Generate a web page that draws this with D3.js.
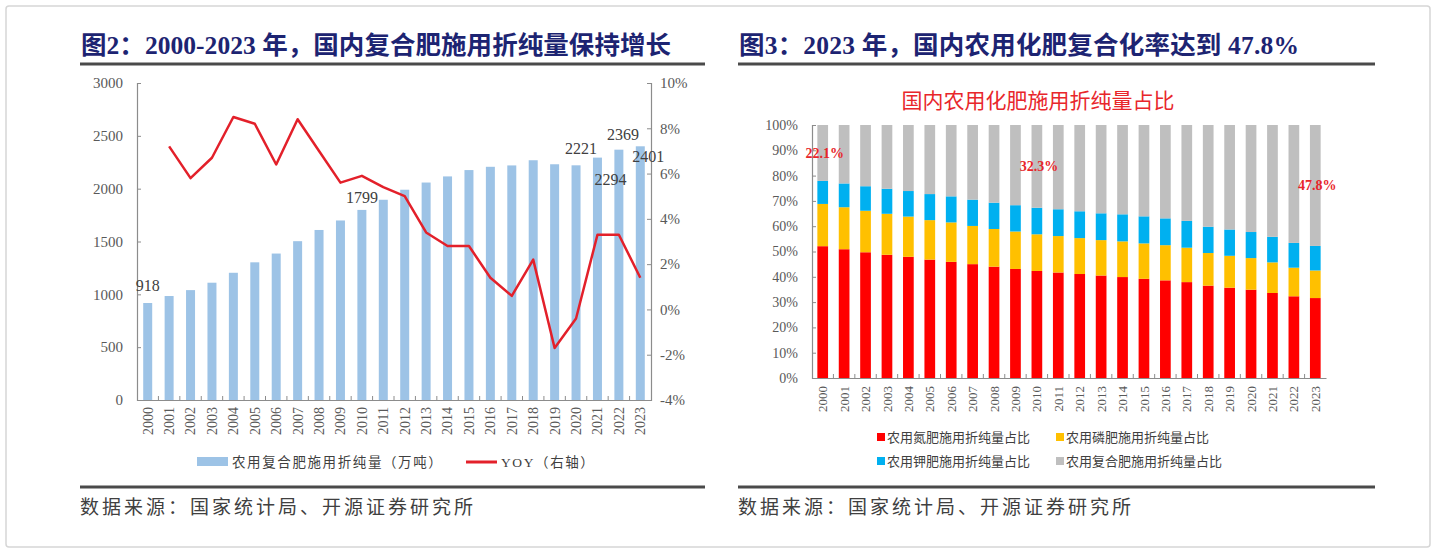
<!DOCTYPE html>
<html>
<head>
<meta charset="utf-8">
<script src="https://cdn.jsdelivr.net/npm/d3@7"></script>
<style>
  html, body { margin: 0; padding: 0; background: #fff; }
  svg { display: block; }
  text { font-family: "Liberation Serif", "Noto Sans CJK SC", serif; }
</style>
</head>
<body>
<svg id="chart" width="1438" height="555"></svg>
<script>
// data
const years = ["2000","2001","2002","2003","2004","2005","2006","2007","2008","2009","2010","2011",
  "2012","2013","2014","2015","2016","2017","2018","2019","2020","2021","2022","2023"];

// 农用复合肥施用折纯量（万吨）
const compoundTons = [918, 984, 1040, 1110, 1204, 1303, 1386, 1503, 1609, 1699, 1799, 1895,
  1990, 2058, 2116, 2176, 2207, 2220, 2269, 2231, 2221, 2294, 2369, 2401];

// YOY（右轴），% — no value for 2000
const yoy = [null, 7.2, 5.8, 6.7, 8.5, 8.2, 6.4, 8.4, 7.0, 5.6, 5.9, 5.4,
  5.0, 3.4, 2.8, 2.8, 1.4, 0.6, 2.2, -1.7, -0.4, 3.3, 3.3, 1.4];

// 占比, %
const nShare = [52.1, 50.9, 49.7, 48.7, 47.9, 46.8, 45.9, 45.0, 44.0, 43.1, 42.3, 41.7,
  41.1, 40.5, 39.9, 39.2, 38.6, 37.9, 36.5, 35.7, 34.9, 33.6, 32.3, 31.6];
const pShare = [16.7, 16.6, 16.4, 16.2, 15.9, 15.6, 15.6, 15.1, 14.9, 14.8, 14.5, 14.4,
  14.2, 14.0, 14.1, 14.0, 13.9, 13.6, 12.9, 12.6, 12.5, 12.1, 11.3, 10.9];
const kShare = [9.1, 9.4, 9.7, 9.9, 10.1, 10.3, 10.3, 10.4, 10.4, 10.4, 10.5, 10.6,
  10.6, 10.6, 10.7, 10.7, 10.6, 10.6, 10.4, 10.4, 10.3, 10.1, 9.8, 9.7];
const cShare = [22.1, 23.1, 24.2, 25.2, 26.1, 27.3, 28.2, 29.5, 30.7, 31.7, 32.7, 33.3,
  34.1, 34.9, 35.3, 36.1, 36.9, 37.9, 40.2, 41.3, 42.3, 44.2, 46.6, 47.8];

const tonTicks = [0, 500, 1000, 1500, 2000, 2500, 3000];
const yoyTicks = [-4, -2, 0, 2, 4, 6, 8, 10];
const shareTicks = [0, 10, 20, 30, 40, 50, 60, 70, 80, 90, 100];

// which bars get a value label in fig 2, and which share labels in fig 3
const labelledYears = ["2000", "2010", "2020", "2021", "2022", "2023"];
const shareLabelYears = ["2000", "2010", "2023"];
const shareLabelTexts = ["22.1%", "32.3%", "47.8%"];

const shareKeys = ["n", "p", "k", "c"];
const shareNames = ["农用氮肥施用折纯量占比", "农用磷肥施用折纯量占比", "农用钾肥施用折纯量占比", "农用复合肥施用折纯量占比"];

// colours
const navy = "#1d2472";
const axisGrey = "#8c8c8c";
const labelGrey = "#595959";
const shareColors = { n: "#ff0000", p: "#ffc000", k: "#00b0f0", c: "#bfbfbf" };

const svg = d3.select("#chart");

// outer frame
svg.append("rect")
  .attr("x", 6).attr("y", 6).attr("width", 1424).attr("height", 541)
  .attr("rx", 3)
  .attr("fill", "none").attr("stroke", "#d6d6d6").attr("stroke-width", 1.5);

// heading + rules for each panel
function panelFrame(x0, x1, title, titleWidth) {
  svg.append("text")
    .attr("x", x0 + 1).attr("y", 54)
    .attr("font-size", 25.5).attr("font-weight", "bold")
    .attr("fill", navy)
    .attr("textLength", titleWidth).attr("lengthAdjust", "spacing")
    .text(title);
  svg.append("line")
    .attr("x1", x0).attr("x2", x1).attr("y1", 64).attr("y2", 64)
    .attr("stroke", "#4a4a4a").attr("stroke-width", 3);
  svg.append("line")
    .attr("x1", x0).attr("x2", x1).attr("y1", 487).attr("y2", 487)
    .attr("stroke", "#4a4a4a").attr("stroke-width", 3);
  svg.append("text")
    .attr("x", x0).attr("y", 514)
    .attr("font-size", 19).attr("letter-spacing", 3)
    .attr("fill", "#404040")
    .text("数据来源：国家统计局、开源证券研究所");
}
panelFrame(80, 705, "图2：2000-2023 年，国内复合肥施用折纯量保持增长", 590);
panelFrame(738, 1375, "图3：2023 年，国内农用化肥复合化率达到 47.8%", 560);

// style helper for axes
function styleAxis(sel, size) {
  sel.select(".domain").attr("stroke", axisGrey).attr("stroke-width", 1.2);
  sel.selectAll(".tick line").attr("stroke", axisGrey);
  sel.selectAll(".tick text")
    .attr("font-size", size)
    .attr("font-family", "Liberation Serif, serif")
    .attr("fill", labelGrey);
}

// ---------- 图2 ----------
const L = { left: 137, right: 651, top: 83, bottom: 400 };

const xL = d3.scaleBand().domain(years).range([L.left, L.right]).paddingInner(0.58).paddingOuter(0.29);
const yL = d3.scaleLinear().domain([0, 3000]).range([L.bottom, L.top]);
const yR = d3.scaleLinear().domain([-4, 10]).range([L.bottom, L.top]);
const bandL = d3.scaleBand().domain(years).range([L.left, L.right]);

const gL = svg.append("g");

// bars
gL.selectAll("rect.bar")
  .data(years)
  .join("rect")
  .attr("class", "bar")
  .attr("x", (d) => xL(d))
  .attr("width", xL.bandwidth())
  .attr("y", (d, i) => yL(compoundTons[i]))
  .attr("height", (d, i) => yL(0) - yL(compoundTons[i]))
  .attr("fill", "#9dc3e6");

// axes
const axL = gL.append("g")
  .attr("transform", `translate(${L.left},0)`)
  .call(d3.axisLeft(yL).tickValues(tonTicks).tickSize(-4).tickPadding(14).tickFormat(d3.format("d")));
styleAxis(axL, 15);

const axR = gL.append("g")
  .attr("transform", `translate(${L.right},0)`)
  .call(d3.axisRight(yR).tickValues(yoyTicks).tickSize(-4).tickPadding(9).tickFormat((d) => d + "%"));
styleAxis(axR, 15);

const axB = gL.append("g")
  .attr("transform", `translate(0,${L.bottom})`)
  .call(d3.axisBottom(bandL).tickSize(0).tickPadding(0));
axB.select(".domain").attr("stroke", axisGrey).attr("stroke-width", 1.2);
axB.selectAll(".tick text")
  .attr("font-size", 14).attr("fill", labelGrey)
  .attr("transform", "rotate(-90)")
  .attr("text-anchor", "end")
  .attr("dx", "-7").attr("dy", "0.35em")
  .attr("x", 0).attr("y", 0);
// small inner ticks on band boundaries
gL.append("g").selectAll("line")
  .data(years.slice(1))
  .join("line")
  .attr("x1", (d) => bandL(d)).attr("x2", (d) => bandL(d))
  .attr("y1", L.bottom).attr("y2", L.bottom - 4)
  .attr("stroke", axisGrey);

// YOY line
const yoyLine = d3.line()
  .defined((d) => d.v !== null)
  .x((d) => xL(d.year) + xL.bandwidth() / 2)
  .y((d) => yR(d.v));
gL.append("path")
  .datum(years.map((y, i) => ({ year: y, v: yoy[i] })))
  .attr("fill", "none")
  .attr("stroke", "#e3202a")
  .attr("stroke-width", 2.5)
  .attr("stroke-linejoin", "round")
  .attr("d", yoyLine);

// value labels (manual nudges like the original)
const nudge = { "2000": [0, -12], "2010": [0, -7], "2020": [5, -11], "2021": [13, 27], "2022": [4, -10], "2023": [8, 16] };
gL.selectAll("text.val")
  .data(labelledYears)
  .join("text")
  .attr("class", "val")
  .attr("x", (d) => xL(d) + xL.bandwidth() / 2 + nudge[d][0])
  .attr("y", (d) => yL(compoundTons[years.indexOf(d)]) + nudge[d][1])
  .attr("text-anchor", "middle")
  .attr("font-size", 16)
  .attr("fill", "#404040")
  .text((d) => compoundTons[years.indexOf(d)]);

// legend
const legL = gL.append("g").attr("transform", "translate(197,462)");
legL.append("rect").attr("x", 0).attr("y", -5).attr("width", 31).attr("height", 9).attr("fill", "#9dc3e6");
legL.append("text").attr("x", 35).attr("y", 5).attr("font-size", 13.5).attr("letter-spacing", 1.6)
  .attr("fill", "#404040").text("农用复合肥施用折纯量（万吨）");
legL.append("line").attr("x1", 269).attr("x2", 300).attr("y1", 0).attr("y2", 0)
  .attr("stroke", "#e3202a").attr("stroke-width", 3);
legL.append("text").attr("x", 304).attr("y", 5).attr("font-size", 13.5).attr("letter-spacing", 1.6)
  .attr("fill", "#404040").text("YOY（右轴）");

// ---------- 图3 ----------
const R = { left: 812, right: 1326, top: 125, bottom: 378 };

const shareTable = years.map((y, i) => ({ year: y, n: nShare[i], p: pShare[i], k: kShare[i], c: cShare[i] }));
const stacked = d3.stack().keys(shareKeys)(shareTable);

const xS = d3.scaleBand().domain(years).range([R.left, R.right]).paddingInner(0.5).paddingOuter(0.25);
const bandS = d3.scaleBand().domain(years).range([R.left, R.right]);
const yS = d3.scaleLinear().domain([0, 100]).range([R.bottom, R.top]);

const gR = svg.append("g");

gR.append("text")
  .attr("x", 1038).attr("y", 108)
  .attr("text-anchor", "middle")
  .attr("font-size", 21)
  .attr("fill", "#e8262b")
  .text("国内农用化肥施用折纯量占比");

gR.selectAll("g.layer")
  .data(stacked)
  .join("g")
  .attr("class", "layer")
  .attr("fill", (d) => shareColors[d.key])
  .selectAll("rect")
  .data((d) => d)
  .join("rect")
  .attr("x", (d) => xS(d.data.year))
  .attr("width", xS.bandwidth())
  .attr("y", (d) => yS(Math.min(d[1], 100)))
  .attr("height", (d) => yS(d[0]) - yS(Math.min(d[1], 100)));

const axS = gR.append("g")
  .attr("transform", `translate(${R.left},0)`)
  .call(d3.axisLeft(yS).tickValues(shareTicks).tickSize(-4).tickPadding(14).tickFormat((d) => d + "%"));
styleAxis(axS, 14);

const axSB = gR.append("g")
  .attr("transform", `translate(0,${R.bottom})`)
  .call(d3.axisBottom(bandS).tickSize(0).tickPadding(0));
axSB.select(".domain").attr("stroke", axisGrey).attr("stroke-width", 1.2);
axSB.selectAll(".tick text")
  .attr("font-size", 13).attr("fill", labelGrey)
  .attr("transform", "rotate(-90)")
  .attr("text-anchor", "end")
  .attr("dx", "-8").attr("dy", "0.35em")
  .attr("x", 0).attr("y", 0);
gR.append("g").selectAll("line")
  .data(years.slice(1))
  .join("line")
  .attr("x1", (d) => bandS(d)).attr("x2", (d) => bandS(d))
  .attr("y1", R.bottom).attr("y2", R.bottom - 4)
  .attr("stroke", axisGrey);

// compound-share labels in the grey segment
gR.selectAll("text.share")
  .data(shareLabelYears)
  .join("text")
  .attr("class", "share")
  .attr("x", (d) => xS(d) + xS.bandwidth() / 2 + 2)
  .attr("y", (d) => {
    const i = years.indexOf(d);
    return yS(100 - cShare[i] / 2) + 5;
  })
  .attr("text-anchor", "middle")
  .attr("font-size", 14)
  .attr("font-weight", "bold")
  .attr("fill", "#e8262b")
  .text((d, i) => shareLabelTexts[i]);

// legend, 2 x 2
const legR = gR.append("g").attr("transform", "translate(877,437)");
legR.selectAll("g")
  .data(shareKeys)
  .join("g")
  .attr("transform", (d, i) => `translate(${(i % 2) * 179},${Math.floor(i / 2) * 24})`)
  .each(function (d, i) {
    const g = d3.select(this);
    g.append("rect").attr("x", 0).attr("y", -4).attr("width", 8).attr("height", 8).attr("fill", shareColors[d]);
    g.append("text").attr("x", 10).attr("y", 5).attr("font-size", 13)
      .attr("fill", "#404040").text(shareNames[i]);
  });
</script>
</body>
</html>
